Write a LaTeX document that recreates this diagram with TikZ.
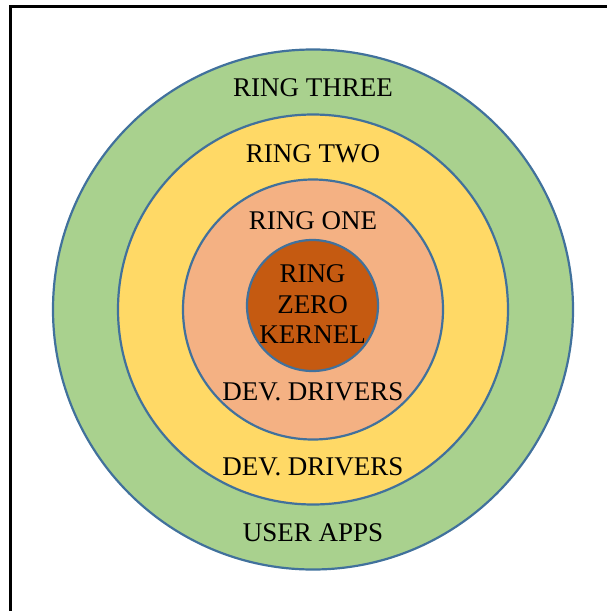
\documentclass[tikz,border=0pt]{standalone}
\usepackage{fontspec}
\setmainfont{Liberation Serif}
\definecolor{ringline}{HTML}{41719C}
\definecolor{rthree}{HTML}{A9D18E}
\definecolor{rtwo}{HTML}{FFD966}
\definecolor{rone}{HTML}{F4B183}
\definecolor{rzero}{HTML}{C55A11}
\begin{document}
\begin{tikzpicture}[x=1pt,y=-1pt,
  ring/.style={draw=ringline,line width=2.2pt,circle,inner sep=0pt},
  lbl/.style={anchor=base,inner sep=0pt,font=\fontsize{27}{30.5}\selectfont,text=black}]
\useasboundingbox (0,0) rectangle (606,611);
\draw[line width=3pt] (10,700) -- (10,6) -- (700,6);
\node[ring,fill=rthree,minimum size=520pt] (r3) at (313,309.5) {};
\node[ring,fill=rtwo,minimum size=390pt] (r2) at (313,309.5) {};
\node[ring,fill=rone,minimum size=260pt] (r1) at (313,309.5) {};
\node[ring,fill=rzero,minimum size=131pt] (r0) at (312.5,305.5) {};
\node[lbl] (t3) at (313,96) {RING THREE};
\node[lbl] (t2) at (313,162) {RING TWO};
\node[lbl] (t1) at (313,229) {RING ONE};
\node[lbl] (k1) at (312.5,282) {RING};
\node[lbl] (k2) at (312.5,313) {ZERO};
\node[lbl] (k3) at (312.5,343) {KERNEL};
\node[lbl] (d1) at (313,400) {DEV. DRIVERS};
\node[lbl] (d2) at (313,475) {DEV. DRIVERS};
\node[lbl] (ua) at (313,541) {USER APPS};
\end{tikzpicture}
\end{document}
